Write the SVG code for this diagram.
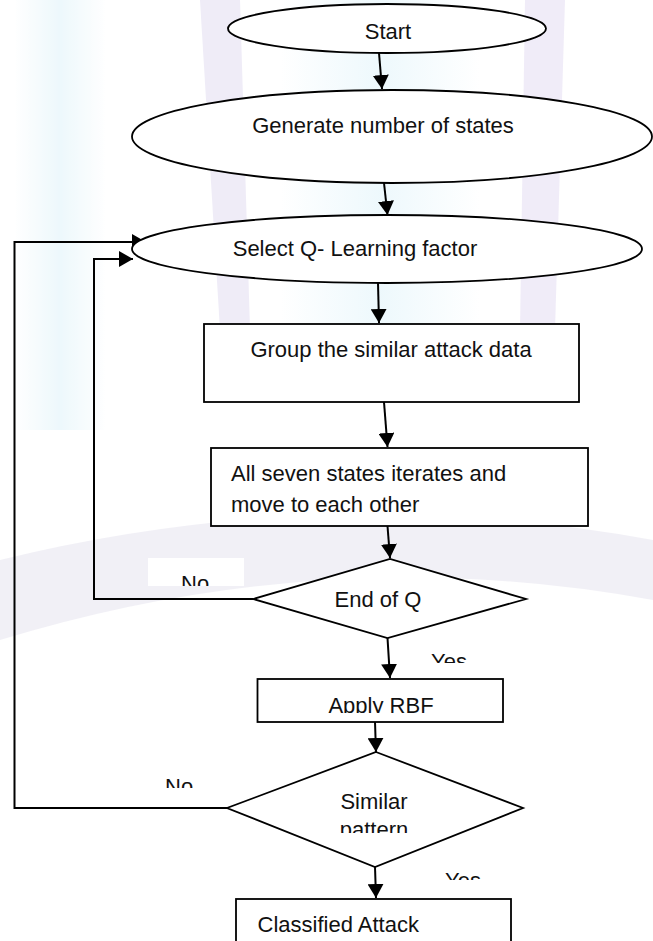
<svg xmlns="http://www.w3.org/2000/svg" width="653" height="941" viewBox="0 0 653 941">
<style>
.node{fill:#fff;stroke:#000;stroke-width:1.8}
.lbl{font-family:"Liberation Sans",Arial,sans-serif;font-size:22px;fill:#111}
.mid{text-anchor:middle}
.conn{fill:none;stroke:#000;stroke-width:2}
.wm{stroke:none}
</style>
<defs>
<marker id="ah" viewBox="0 0 14 16" refX="14" refY="8" markerWidth="14" markerHeight="16" markerUnits="userSpaceOnUse" orient="auto">
<path d="M0,0 L14,8 L0,16 z" fill="#000"/>
</marker>
<linearGradient id="cy" x1="0" y1="0" x2="1" y2="0">
<stop offset="0" stop-color="#ffffff"/>
<stop offset="0.5" stop-color="#dff3fa"/>
<stop offset="1" stop-color="#ffffff"/>
</linearGradient>
<clipPath id="cNo1"><rect x="148" y="558" width="96" height="28"/></clipPath>
<clipPath id="cYes1"><rect x="403" y="636" width="97" height="27"/></clipPath>
<clipPath id="cRbf"><rect x="258" y="680" width="245" height="33"/></clipPath>
<clipPath id="cPat"><rect x="300" y="815" width="150" height="18"/></clipPath>
<clipPath id="cNo2"><rect x="150" y="770" width="60" height="18"/></clipPath>
<clipPath id="cYes2"><rect x="430" y="862" width="70" height="18"/></clipPath>
</defs>
<rect width="653" height="941" fill="#fff"/>
<g id="watermark" opacity="0.55">
<rect class="wm" x="15" y="0" width="90" height="430" fill="url(#cy)"/>
<rect class="wm" x="280" y="0" width="200" height="330" fill="url(#cy)"/>
<path class="wm" d="M200,0 L240,0 L250,330 L220,330 z" fill="#e3ddf2"/>
<path class="wm" d="M525,0 L565,0 L555,330 L520,330 z" fill="#e3ddf2"/>
<path class="wm" d="M0,560 Q326,480 653,540 L653,600 Q326,540 0,640 z" fill="#e6e3ef"/>
</g>
<g id="connectors">
<line class="conn" x1="379" y1="53" x2="382" y2="89" marker-end="url(#ah)"/>
<line class="conn" x1="384" y1="183" x2="387.5" y2="215" marker-end="url(#ah)"/>
<line class="conn" x1="378" y1="283" x2="379" y2="323" marker-end="url(#ah)"/>
<line class="conn" x1="384" y1="402" x2="387.5" y2="447" marker-end="url(#ah)"/>
<line class="conn" x1="387.5" y1="526" x2="390" y2="558" marker-end="url(#ah)"/>
<line class="conn" x1="387.5" y1="638" x2="390" y2="678" marker-end="url(#ah)"/>
<line class="conn" x1="375" y1="722" x2="376" y2="752" marker-end="url(#ah)"/>
<line class="conn" x1="375" y1="867" x2="376" y2="898" marker-end="url(#ah)"/>
<polyline class="conn" points="253,599 94,599 94,259 133,259" marker-end="url(#ah)"/>
<polyline class="conn" points="227,808 14.5,808 14.5,242 146,242" marker-end="url(#ah)"/>
</g>
<g id="start"><ellipse class="node" cx="387" cy="28.5" rx="159" ry="24.5"/><text class="lbl mid" x="388" y="39">Start</text></g>
<g id="generate"><ellipse class="node" cx="392" cy="136.5" rx="260" ry="46.5"/><text class="lbl mid" x="383" y="133">Generate number of states</text></g>
<g id="select"><ellipse class="node" cx="387" cy="249" rx="255" ry="34"/><text class="lbl mid" x="355" y="256">Select Q- Learning factor</text></g>
<g id="group"><rect class="node" x="204" y="324" width="375" height="78"/><text class="lbl mid" x="391" y="357">Group the similar attack data</text></g>
<g id="seven"><rect class="node" x="211" y="448" width="377" height="78"/><text class="lbl" x="231" y="481">All seven states iterates and</text><text class="lbl" x="231" y="512">move to each other</text></g>
<g id="endq"><polygon class="node" points="253,599 390,559 526,599 387.5,638"/><text class="lbl mid" x="378" y="607">End of Q</text></g>
<g id="rbf"><rect class="node" x="257.5" y="679" width="245.5" height="43"/><text class="lbl mid" x="381" y="713" clip-path="url(#cRbf)">Apply RBF</text></g>
<g id="similar"><polygon class="node" points="376,752 523,808 375,867 227,808"/><text class="lbl mid" x="374" y="809">Similar</text><text class="lbl mid" x="374" y="837" clip-path="url(#cPat)">pattern</text></g>
<g id="classified"><rect class="node" x="236" y="899" width="275" height="60"/><text class="lbl" x="257.5" y="932">Classified Attack</text></g>
<g id="labels">
<rect x="148" y="558" width="96" height="28" fill="#fff"/>
<text class="lbl" x="181" y="591" clip-path="url(#cNo1)">No</text>
<rect x="403" y="636" width="97" height="27" fill="#fff"/>
<text class="lbl" x="431" y="669" clip-path="url(#cYes1)">Yes</text>
<text class="lbl" x="165" y="794" clip-path="url(#cNo2)">No</text>
<text class="lbl" x="445" y="888" clip-path="url(#cYes2)">Yes</text>
</g>
</svg>
